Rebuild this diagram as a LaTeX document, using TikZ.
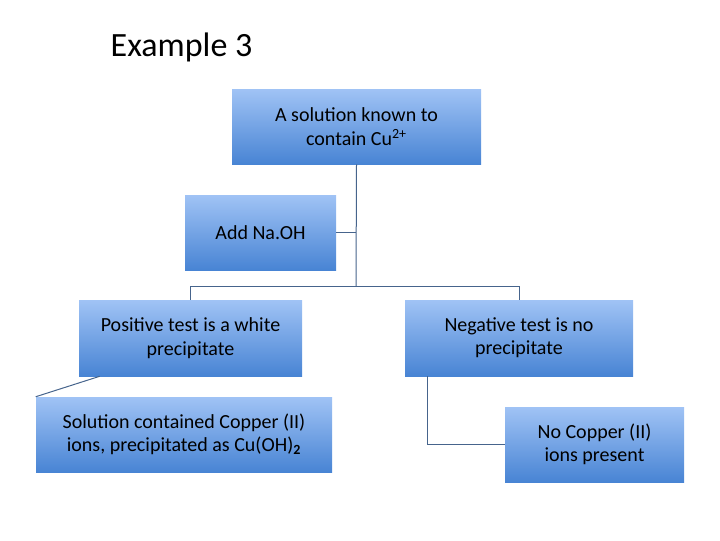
\documentclass[tikz,border=0pt]{standalone}
\usepackage{fontspec}
\setmainfont{Carlito}
\begin{document}
\begin{tikzpicture}[x=0.75pt,y=-0.75pt,
 box/.style={draw=none,top color=blue!25!cyan!10!white!60!blue!40,bottom color={rgb,255:red,70;green,130;blue,210},
   align=center,font=\fontsize{15}{17.5}\selectfont,inner sep=0pt},
 ln/.style={draw={rgb,255:red,70;green,100;blue,140},line width=0.75pt}]
\definecolor{topc}{RGB}{160,195,245}
\definecolor{botc}{RGB}{72,132,212}
\tikzset{box/.append style={top color=topc,bottom color=botc}}
\useasboundingbox (0,0) rectangle (720,540);
\node[anchor=west,font=\fontsize{25.5}{28}\selectfont] (title) at (106,47) {Example 3};
\node[box,minimum width=249*0.75pt,minimum height=75*0.75pt] (a) at (356.5,126.5) {A solution known to\\contain Cu\textsuperscript{2+}};
\node[box,minimum width=151*0.75pt,minimum height=75*0.75pt] (b) at (260.5,232.5) {Add Na.OH};
\node[box,minimum width=223*0.75pt,minimum height=76*0.75pt] (c) at (190.5,338) {Positive test is a white\\precipitate};
\node[box,minimum width=228*0.75pt,minimum height=76*0.75pt] (d) at (519,338) {Negative test is no\\precipitate};
\node[box,minimum width=296*0.75pt,minimum height=75*0.75pt] (e) at (184,434.5) {Solution contained Copper (II)\\ions, precipitated as Cu(OH)\textsubscript{\textbf{2}}};
\node[box,minimum width=179*0.75pt,minimum height=75*0.75pt] (f) at (594.5,444.5) {No Copper (II)\\ions present};
\coordinate (j) at (356,286);
\draw[ln] (a.south) -- (j);
\draw[ln] (b.east) -- (b.east -| j);
\draw[ln] (c.north) -- (c.north |- j) -- (d.north |- j) -- (d.north);
\draw[ln] (d.south west) ++(23*0.75pt,0) coordinate (k) -- (k |- f.west) -- (f.west);
\draw[ln] (c.south west) ++(21*0.75pt,0) coordinate (m) -- (e.north west) ++(41*0.75pt,0) coordinate (n);
\end{tikzpicture}
\end{document}
